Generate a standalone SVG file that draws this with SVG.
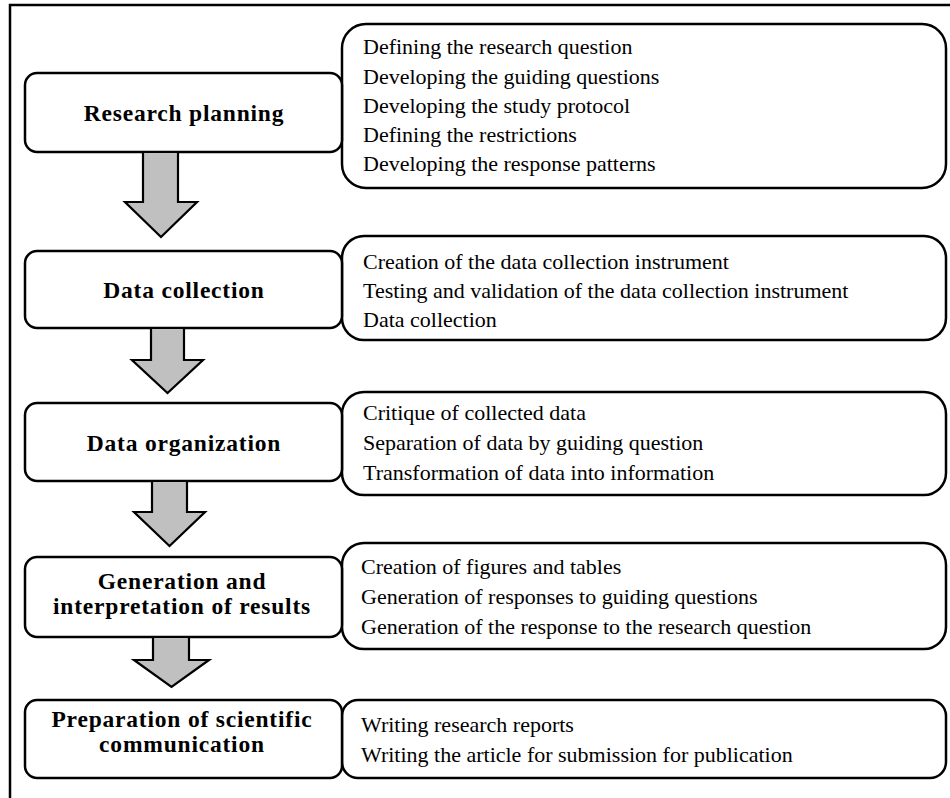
<svg xmlns="http://www.w3.org/2000/svg" width="950" height="798" viewBox="0 0 950 798">
  <style>
    .frame { fill: none; stroke: #000; stroke-width: 2.5; }
    .step { fill: #fff; stroke: #000; stroke-width: 2.5; }
    .detail { fill: #fff; stroke: #000; stroke-width: 2.5; }
    .flow { fill: #c0c0c0; stroke: #000; stroke-width: 2.2; stroke-linejoin: miter; }
    .title { font-family: "Liberation Serif", "Times New Roman", serif; font-weight: bold; font-size: 23.5px; letter-spacing: 0.8px; fill: #000; text-anchor: middle; }
    .item { font-family: "Liberation Serif", "Times New Roman", serif; font-size: 22px; fill: #000; }
  </style>

  <rect width="950" height="798" fill="#fff"/>
  <!-- outer frame, open at right and bottom -->
  <rect class="frame" x="10" y="5" width="960" height="820"/>

  <!-- task lists -->
  <g id="details-planning">
    <rect class="detail" x="342" y="24" width="604" height="164" rx="24"/>
    <text class="item" x="363" y="54">Defining the research question</text>
    <text class="item" x="363" y="84">Developing the guiding questions</text>
    <text class="item" x="363" y="113">Developing the study protocol</text>
    <text class="item" x="363" y="142">Defining the restrictions</text>
    <text class="item" x="363" y="171">Developing the response patterns</text>
  </g>
  <g id="details-collection">
    <rect class="detail" x="342" y="236" width="604" height="104" rx="22"/>
    <text class="item" x="363" y="269">Creation of the data collection instrument</text>
    <text class="item" x="363" y="298">Testing and validation of the data collection instrument</text>
    <text class="item" x="363" y="327">Data collection</text>
  </g>
  <g id="details-organization">
    <rect class="detail" x="342" y="392" width="604" height="103" rx="22"/>
    <text class="item" x="363" y="420">Critique of collected data</text>
    <text class="item" x="363" y="450">Separation of data by guiding question</text>
    <text class="item" x="363" y="480">Transformation of data into information</text>
  </g>
  <g id="details-results">
    <rect class="detail" x="342" y="543" width="604" height="106" rx="22"/>
    <text class="item" x="361" y="574">Creation of figures and tables</text>
    <text class="item" x="361" y="604">Generation of responses to guiding questions</text>
    <text class="item" x="361" y="634">Generation of the response to the research question</text>
  </g>
  <g id="details-communication">
    <rect class="detail" x="342" y="700" width="604" height="78" rx="16"/>
    <text class="item" x="361" y="732">Writing research reports</text>
    <text class="item" x="361" y="762">Writing the article for submission for publication</text>
  </g>

  <!-- process steps -->
  <g id="step-planning">
    <rect class="step" x="25" y="73" width="317" height="79" rx="12"/>
    <text class="title" x="184" y="121">Research planning</text>
  </g>
  <g id="step-collection">
    <rect class="step" x="25" y="251" width="317" height="77" rx="12"/>
    <text class="title" x="184" y="298">Data collection</text>
  </g>
  <g id="step-organization">
    <rect class="step" x="25" y="403" width="317" height="78" rx="12"/>
    <text class="title" x="184" y="451">Data organization</text>
  </g>
  <g id="step-results">
    <rect class="step" x="25" y="557" width="317" height="80" rx="12"/>
    <text class="title" x="182" y="589">Generation and</text>
    <text class="title" x="182" y="614">interpretation of results</text>
  </g>
  <g id="step-communication">
    <rect class="step" x="25" y="700" width="317" height="78" rx="12"/>
    <text class="title" x="182" y="727">Preparation of scientific</text>
    <text class="title" x="182" y="752">communication</text>
  </g>

  <!-- block arrows between steps -->
  <g id="connectors">
    <polygon class="flow" points="143,152 178,152 178,202 197,202 161,237 125,202 143,202"/>
    <polygon class="flow" points="151,328 184,328 184,360 203,360 167.5,393 132,360 151,360"/>
    <polygon class="flow" points="152,481 187,481 187,512 205,512 169.5,546 134,512 152,512"/>
    <polygon class="flow" points="153,637 189,637 189,660 209,660 171.5,687 134,660 153,660"/>
  </g>
</svg>
